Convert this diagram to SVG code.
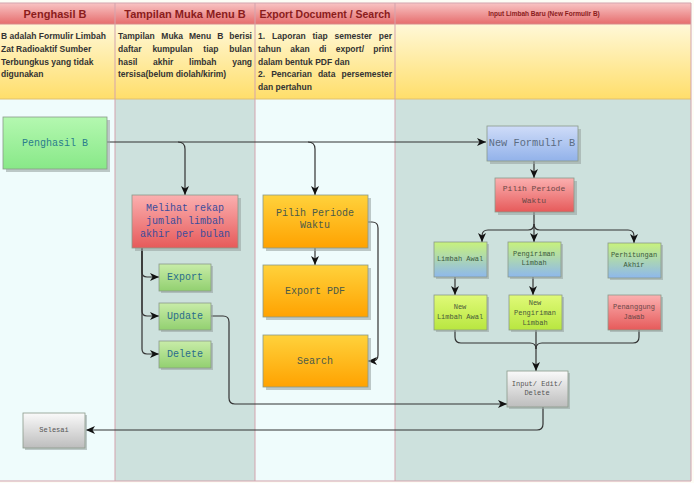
<svg xmlns="http://www.w3.org/2000/svg" width="694" height="483" viewBox="0 0 694 483">
<style>
.hdr{font-family:"Liberation Sans",Arial,sans-serif;font-weight:bold;font-size:11px;fill:#8b1c1c;text-anchor:middle}
.desc{font-family:"Liberation Sans",Arial,sans-serif;font-weight:bold;font-size:8.5px;fill:#333}
.lane{stroke:#d3a3ad;stroke-width:1}
.box{stroke:#8a9a8a;stroke-width:0.8}
.sh{fill:#9aa5a3;opacity:0.6}
.mono{font-family:"Liberation Mono","Courier New",monospace;text-anchor:middle}
.big{font-size:10px}
.sm{font-size:7px}
.conn path{fill:none;stroke:#333;stroke-width:1.2}
</style>
<defs>
<linearGradient id="gHdr" x1="0" y1="0" x2="0" y2="1"><stop offset="0" stop-color="#f8c4c4"/><stop offset="1" stop-color="#e66d6d"/></linearGradient>
<linearGradient id="gDesc" x1="0" y1="0" x2="0" y2="1"><stop offset="0" stop-color="#fff8d8"/><stop offset="1" stop-color="#ffde6a"/></linearGradient>
<linearGradient id="gGreen" x1="0" y1="0" x2="0" y2="1"><stop offset="0" stop-color="#b4f8b0"/><stop offset="1" stop-color="#88e888"/></linearGradient>
<linearGradient id="gGreen2" x1="0" y1="0" x2="0" y2="1"><stop offset="0" stop-color="#c8eca8"/><stop offset="1" stop-color="#92d070"/></linearGradient>
<linearGradient id="gRed" x1="0" y1="0" x2="0" y2="1"><stop offset="0" stop-color="#fbb0b0"/><stop offset="1" stop-color="#e65a5a"/></linearGradient>
<linearGradient id="gOrange" x1="0" y1="0" x2="0" y2="1"><stop offset="0" stop-color="#ffd23c"/><stop offset="1" stop-color="#ffa200"/></linearGradient>
<linearGradient id="gBlue" x1="0" y1="0" x2="0" y2="1"><stop offset="0" stop-color="#cfdcf8"/><stop offset="1" stop-color="#92b2ea"/></linearGradient>
<linearGradient id="gGB" x1="0" y1="0" x2="0" y2="1"><stop offset="0" stop-color="#c8f27c"/><stop offset="1" stop-color="#8eb8ec"/></linearGradient>
<linearGradient id="gYG" x1="0" y1="0" x2="0" y2="1"><stop offset="0" stop-color="#e0fa78"/><stop offset="1" stop-color="#b8e640"/></linearGradient>
<linearGradient id="gGray" x1="0" y1="0" x2="0" y2="1"><stop offset="0" stop-color="#fafafa"/><stop offset="1" stop-color="#bdbdbd"/></linearGradient>
<marker id="arr" markerWidth="9" markerHeight="8" refX="9" refY="4" orient="auto" markerUnits="userSpaceOnUse"><path d="M0,0 L9,4 L0,8 L2.5,4 z" fill="#111"/></marker>
</defs>

<!-- background -->
<rect x="0" y="0" width="694" height="483" fill="#fdfdf6"/>
<!-- lanes -->
<g id="lanes">
<rect x="-1" y="99" width="116" height="382" fill="#effcfc"/>
<rect x="115" y="99" width="140" height="382" fill="#cde1dd"/>
<rect x="255" y="99" width="140" height="382" fill="#effcfc"/>
<rect x="395" y="99" width="296" height="382" fill="#cde1dd"/>
<rect x="-1" y="3" width="692" height="21" fill="url(#gHdr)"/>
<rect x="-1" y="24" width="692" height="75" fill="url(#gDesc)"/>
<line class="lane" x1="-1" y1="3" x2="691" y2="3"/>
<line x1="-1" y1="24" x2="691" y2="24" stroke="#d88a8a" stroke-width="1"/>
<line x1="-1" y1="99" x2="691" y2="99" stroke="#e0c070" stroke-width="1"/>
<line class="lane" x1="-1" y1="481" x2="691" y2="481"/>
<line class="lane" x1="115" y1="3" x2="115" y2="481"/>
<line class="lane" x1="255" y1="3" x2="255" y2="481"/>
<line class="lane" x1="395" y1="3" x2="395" y2="481"/>
<line class="lane" x1="691" y1="3" x2="691" y2="481"/>
<text class="hdr" x="55" y="18">Penghasil B</text>
<text class="hdr" x="185" y="18">Tampilan Muka Menu B</text>
<text class="hdr" x="325" y="18" textLength="131" lengthAdjust="spacingAndGlyphs">Export Document / Search</text>
<text class="hdr" x="544" y="16" style="font-size:6.5px">Input Limbah Baru (New Formulir B)</text>
<text class="desc" x="1" y="39">B adalah Formulir Limbah</text>
<text class="desc" x="1" y="52">Zat Radioaktif Sumber</text>
<text class="desc" x="1" y="65">Terbungkus yang tidak</text>
<text class="desc" x="1" y="77">digunakan</text>
<text class="desc" y="39"><tspan x="118">Tampilan</tspan> <tspan x="161.3">Muka</tspan> <tspan x="189">Menu</tspan> <tspan x="217.2">B</tspan> <tspan x="229.3">berisi</tspan></text>
<text class="desc" y="52"><tspan x="118">daftar</tspan> <tspan x="152.4">kumpulan</tspan> <tspan x="203.3">tiap</tspan> <tspan x="229.2">bulan</tspan></text>
<text class="desc" y="65"><tspan x="118">hasil</tspan> <tspan x="153.1">akhir</tspan> <tspan x="189.1">limbah</tspan> <tspan x="232.2">yang</tspan></text>
<text class="desc" x="118" y="77">tersisa(belum diolah/kirim)</text>
<text class="desc" y="39"><tspan x="258">1.</tspan> <tspan x="272.1">Laporan</tspan> <tspan x="312.5">tiap</tspan> <tspan x="334.6">semester</tspan> <tspan x="378.8">per</tspan></text>
<text class="desc" y="52"><tspan x="258">tahun</tspan> <tspan x="290.3">akan</tspan> <tspan x="318.9">di</tspan> <tspan x="335.7">export/</tspan> <tspan x="373.2">print</tspan></text>
<text class="desc" x="258" y="65">dalam bentuk PDF dan</text>
<text class="desc" y="77"><tspan x="258">2.</tspan> <tspan x="271.2">Pencarian</tspan> <tspan x="317.9">data</tspan> <tspan x="341.5">persemester</tspan></text>
<text class="desc" x="258" y="90">dan pertahun</text>
</g>

<!-- connectors -->
<g id="connectors" class="conn">
<path d="M107,142 H486" marker-end="url(#arr)"/>
<path d="M178,142 Q185,142 185,149 V195" marker-end="url(#arr)"/>
<path d="M308,142 Q315,142 315,149 V195" marker-end="url(#arr)"/>
<path d="M142,248 V272 Q142,277 147,277 H159" marker-end="url(#arr)"/>
<path d="M142,248 V311 Q142,316 147,316 H159" marker-end="url(#arr)"/>
<path d="M142,248 V349 Q142,354 147,354 H159" marker-end="url(#arr)"/>
<path d="M211,316 H223 Q229,316 229,322 V398 Q229,404 235,404 H507" marker-end="url(#arr)"/>
<path d="M543,407 V424 Q543,430 537,430 H86" marker-end="url(#arr)"/>
<path d="M315,248 V265" marker-end="url(#arr)"/>
<path d="M368,222 H372 Q378,222 378,228 V355 Q378,361 372,361 H368" marker-end="url(#arr)"/>
<path d="M534,161 V178" marker-end="url(#arr)"/>
<path d="M534,212 V242" marker-end="url(#arr)"/>
<path d="M534,224 Q534,230 528,230 H488 Q482,230 482,236 V242" marker-end="url(#arr)"/>
<path d="M534,224 Q534,230 540,230 H628 Q634,230 634,236 V243" marker-end="url(#arr)"/>
<path d="M455,277 V295" marker-end="url(#arr)"/>
<path d="M533,277 V295" marker-end="url(#arr)"/>
<path d="M455,330 V337 Q455,343 461,343 H530 Q536,343 536,349"/>
<path d="M639,330 V337 Q639,343 633,343 H542 Q536,343 536,349"/>
<path d="M536,330 V371" marker-end="url(#arr)"/>
</g>

<!-- nodes -->
<g id="n-penghasil">
<rect class="sh" x="6" y="120" width="104" height="52"/>
<rect class="box" x="3" y="117" width="104" height="52" fill="url(#gGreen)" stroke="#9fd89f"/>
<text class="mono big" x="55" y="146" fill="#2a7d8c">Penghasil B</text>
</g>
<g id="n-melihat">
<rect class="sh" x="135" y="198" width="106" height="53"/>
<rect class="box" x="132" y="195" width="106" height="53" fill="url(#gRed)" stroke="#d88"/>
<text class="mono big" x="185" y="211" fill="#3c4c9c">Melihat rekap</text>
<text class="mono big" x="185" y="224" fill="#3c4c9c">jumlah limbah</text>
<text class="mono big" x="185" y="237" fill="#3c4c9c">akhir per bulan</text>
</g>
<g id="n-export">
<rect class="sh" x="161" y="266" width="52" height="27"/>
<rect class="box" x="159" y="264" width="52" height="27" fill="url(#gGreen2)" stroke="#9c9"/>
<text class="mono big" x="185" y="280" fill="#2a6d8c">Export</text>
</g>
<g id="n-update">
<rect class="sh" x="161" y="305" width="52" height="27"/>
<rect class="box" x="159" y="303" width="52" height="27" fill="url(#gGreen2)" stroke="#9c9"/>
<text class="mono big" x="185" y="319" fill="#2a6d8c">Update</text>
</g>
<g id="n-delete">
<rect class="sh" x="161" y="343" width="52" height="27"/>
<rect class="box" x="159" y="341" width="52" height="27" fill="url(#gGreen2)" stroke="#9c9"/>
<text class="mono big" x="185" y="357" fill="#2a6d8c">Delete</text>
</g>
<g id="n-pilih1">
<rect class="sh" x="266" y="198" width="105" height="53"/>
<rect class="box" x="263" y="195" width="105" height="53" fill="url(#gOrange)" stroke="#e8b030"/>
<text class="mono big" x="315" y="216" fill="#4b5a4a">Pilih Periode</text>
<text class="mono big" x="315" y="228" fill="#4b5a4a">Waktu</text>
</g>
<g id="n-exportpdf">
<rect class="sh" x="266" y="268" width="105" height="52"/>
<rect class="box" x="263" y="265" width="105" height="52" fill="url(#gOrange)" stroke="#e8b030"/>
<text class="mono big" x="315" y="294" fill="#4b5a4a">Export PDF</text>
</g>
<g id="n-search">
<rect class="sh" x="266" y="338" width="105" height="52"/>
<rect class="box" x="263" y="335" width="105" height="52" fill="url(#gOrange)" stroke="#e8b030"/>
<text class="mono big" x="315" y="364" fill="#4b5a4a">Search</text>
</g>
<g id="n-newformulir">
<rect class="sh" x="490" y="129" width="91" height="35"/>
<rect class="box" x="487" y="126" width="91" height="35" fill="url(#gBlue)" stroke="#7f9ccc"/>
<text class="mono" x="532" y="146" style="font-size:10.3px" fill="#5b6c82">New Formulir B</text>
</g>
<g id="n-pilih2">
<rect class="sh" x="498" y="181" width="79" height="34"/>
<rect class="box" x="495" y="178" width="79" height="34" fill="url(#gRed)" stroke="#d88"/>
<text class="mono" x="534" y="191" style="font-size:8px" fill="#6a4848">Pilih Periode</text>
<text class="mono" x="534" y="203" style="font-size:8px" fill="#6a4848">Waktu</text>
</g>
<g id="n-limbahawal">
<rect class="sh" x="436" y="244" width="53" height="35"/>
<rect class="box" x="434" y="242" width="53" height="35" fill="url(#gGB)" stroke="#8ab"/>
<text class="mono sm" x="460" y="261" fill="#3c5a3c">Limbah Awal</text>
</g>
<g id="n-pengiriman">
<rect class="sh" x="510" y="244" width="53" height="35"/>
<rect class="box" x="508" y="242" width="53" height="35" fill="url(#gGB)" stroke="#8ab"/>
<text class="mono sm" x="534" y="256" fill="#3c5a3c">Pengiriman</text>
<text class="mono sm" x="534" y="265" fill="#3c5a3c">Limbah</text>
</g>
<g id="n-perhitungan">
<rect class="sh" x="610" y="245" width="53" height="35"/>
<rect class="box" x="608" y="243" width="53" height="35" fill="url(#gGB)" stroke="#8ab"/>
<text class="mono sm" x="634" y="257" fill="#3c5a3c">Perhitungan</text>
<text class="mono sm" x="634" y="267" fill="#3c5a3c">Akhir</text>
</g>
<g id="n-newlimbahawal">
<rect class="sh" x="436" y="297" width="53" height="35"/>
<rect class="box" x="434" y="295" width="53" height="35" fill="url(#gYG)" stroke="#9b6"/>
<text class="mono sm" x="460" y="309" fill="#4a5a3a">New</text>
<text class="mono sm" x="460" y="319" fill="#4a5a3a">Limbah Awal</text>
</g>
<g id="n-newpengiriman">
<rect class="sh" x="511" y="297" width="53" height="35"/>
<rect class="box" x="509" y="295" width="53" height="35" fill="url(#gYG)" stroke="#9b6"/>
<text class="mono sm" x="535" y="305" fill="#4a5a3a">New</text>
<text class="mono sm" x="535" y="315" fill="#4a5a3a">Pengiriman</text>
<text class="mono sm" x="535" y="325" fill="#4a5a3a">Limbah</text>
</g>
<g id="n-penanggung">
<rect class="sh" x="610" y="297" width="53" height="35"/>
<rect class="box" x="608" y="295" width="53" height="35" fill="url(#gRed)" stroke="#d88"/>
<text class="mono sm" x="634" y="309" fill="#6a4848">Penanggung</text>
<text class="mono sm" x="634" y="319" fill="#6a4848">Jawab</text>
</g>
<g id="n-input">
<rect class="sh" x="509" y="373" width="61" height="36"/>
<rect class="box" x="507" y="371" width="61" height="36" fill="url(#gGray)" stroke="#999"/>
<text class="mono sm" x="537" y="386" fill="#555">Input/ Edit/</text>
<text class="mono sm" x="537" y="395" fill="#555">Delete</text>
</g>
<g id="n-selesai">
<rect class="sh" x="25" y="415" width="62" height="35"/>
<rect class="box" x="23" y="413" width="62" height="35" fill="url(#gGray)" stroke="#999"/>
<text class="mono sm" x="54" y="432" fill="#555">Selesai</text>
</g>
</svg>
